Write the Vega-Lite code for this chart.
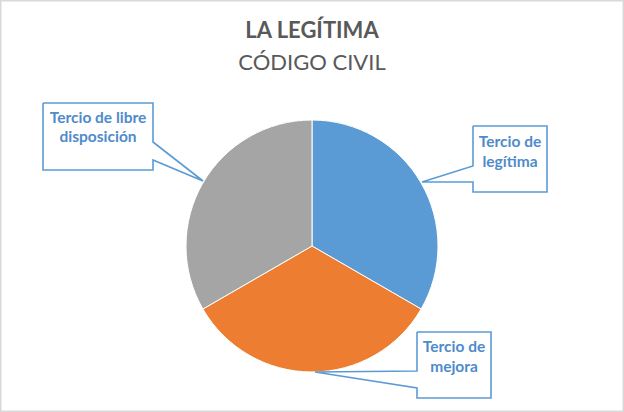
{
  "$schema": "https://vega.github.io/schema/vega-lite/v6.json",
  "width": 624,
  "height": 412,
  "autosize": {"type": "fit", "contains": "padding"},
  "padding": 0,
  "background": "white",
  "config": {"view": {"stroke": "#d9d9d9", "strokeWidth": 3}},
  "datasets": {
    "pie": [
      {"parte": "Tercio de legítima", "valor": 1, "orden": 1},
      {"parte": "Tercio de mejora", "valor": 1, "orden": 2},
      {"parte": "Tercio de libre disposición", "valor": 1, "orden": 3}
    ],
    "callouts": [
      {"id": "libre", "seq": 1, "px": 43, "py": 103},
      {"id": "libre", "seq": 2, "px": 153, "py": 103},
      {"id": "libre", "seq": 3, "px": 153, "py": 142},
      {"id": "libre", "seq": 4, "px": 203, "py": 181},
      {"id": "libre", "seq": 5, "px": 153, "py": 160},
      {"id": "libre", "seq": 6, "px": 153, "py": 170},
      {"id": "libre", "seq": 7, "px": 43, "py": 170},
      {"id": "libre", "seq": 8, "px": 43, "py": 103},
      {"id": "legitima", "seq": 1, "px": 473, "py": 126},
      {"id": "legitima", "seq": 2, "px": 547, "py": 126},
      {"id": "legitima", "seq": 3, "px": 547, "py": 192},
      {"id": "legitima", "seq": 4, "px": 473, "py": 192},
      {"id": "legitima", "seq": 5, "px": 473, "py": 182},
      {"id": "legitima", "seq": 6, "px": 422, "py": 182},
      {"id": "legitima", "seq": 7, "px": 473, "py": 166},
      {"id": "legitima", "seq": 8, "px": 473, "py": 126},
      {"id": "mejora", "seq": 1, "px": 417, "py": 332},
      {"id": "mejora", "seq": 2, "px": 491, "py": 332},
      {"id": "mejora", "seq": 3, "px": 491, "py": 398},
      {"id": "mejora", "seq": 4, "px": 417, "py": 398},
      {"id": "mejora", "seq": 5, "px": 417, "py": 388},
      {"id": "mejora", "seq": 6, "px": 315, "py": 372},
      {"id": "mejora", "seq": 7, "px": 417, "py": 371},
      {"id": "mejora", "seq": 8, "px": 417, "py": 332}
    ],
    "labels": [
      {"linea": "Tercio de libre", "lx": 98, "ly": 118},
      {"linea": "disposición", "lx": 98, "ly": 137},
      {"linea": "Tercio de", "lx": 510, "ly": 142},
      {"linea": "legítima", "lx": 510, "ly": 162},
      {"linea": "Tercio de", "lx": 454, "ly": 347},
      {"linea": "mejora", "lx": 454, "ly": 367}
    ],
    "titles": [
      {"t": "LA LEGÍTIMA", "tx": 312, "ty": 31},
      {"t": "CÓDIGO CIVIL", "tx": 312, "ty": 63}
    ]
  },
  "layer": [
    {
      "data": {"name": "pie"},
      "mark": {"type": "arc", "outerRadius": 126, "stroke": "white", "strokeWidth": 1},
      "encoding": {
        "x": {"datum": 312, "type": "quantitative", "scale": {"domain": [0, 624], "nice": false, "zero": false}, "axis": null},
        "y": {"datum": 246, "type": "quantitative", "scale": {"domain": [0, 412], "nice": false, "zero": false, "reverse": true}, "axis": null},
        "theta": {"field": "valor", "type": "quantitative", "stack": true},
        "order": {"field": "orden", "type": "quantitative"},
        "color": {
          "field": "parte", "type": "nominal",
          "scale": {"domain": ["Tercio de legítima", "Tercio de mejora", "Tercio de libre disposición"], "range": ["#5B9BD5", "#ED7D31", "#A5A5A5"]},
          "legend": null
        }
      }
    },
    {
      "data": {"name": "callouts"},
      "mark": {"type": "line", "stroke": "#5B9BD5", "strokeWidth": 1.6, "fill": "white", "interpolate": "linear"},
      "encoding": {
        "x": {"field": "px", "type": "quantitative", "axis": null},
        "y": {"field": "py", "type": "quantitative", "axis": null},
        "detail": {"field": "id"},
        "order": {"field": "seq", "type": "quantitative"}
      }
    },
    {
      "data": {"name": "labels"},
      "mark": {"type": "text", "font": "Lato", "fontWeight": "bold", "fontSize": 15.5, "color": "#4F8BCB", "align": "center", "baseline": "middle"},
      "encoding": {
        "x": {"field": "lx", "type": "quantitative", "axis": null},
        "y": {"field": "ly", "type": "quantitative", "axis": null},
        "text": {"field": "linea"}
      }
    },
    {
      "data": {"name": "titles"},
      "transform": [{"filter": "datum.t === 'LA LEGÍTIMA'"}],
      "mark": {"type": "text", "font": "Lato", "fontWeight": "bold", "fontSize": 22, "color": "#595959", "align": "center", "baseline": "middle"},
      "encoding": {
        "x": {"field": "tx", "type": "quantitative", "axis": null},
        "y": {"field": "ty", "type": "quantitative", "axis": null},
        "text": {"field": "t"}
      }
    },
    {
      "data": {"name": "titles"},
      "transform": [{"filter": "datum.t === 'CÓDIGO CIVIL'"}],
      "mark": {"type": "text", "font": "Lato", "fontWeight": "normal", "fontSize": 22, "color": "#595959", "align": "center", "baseline": "middle"},
      "encoding": {
        "x": {"field": "tx", "type": "quantitative", "axis": null},
        "y": {"field": "ty", "type": "quantitative", "axis": null},
        "text": {"field": "t"}
      }
    }
  ],
  "resolve": {"scale": {"color": "independent"}}
}
